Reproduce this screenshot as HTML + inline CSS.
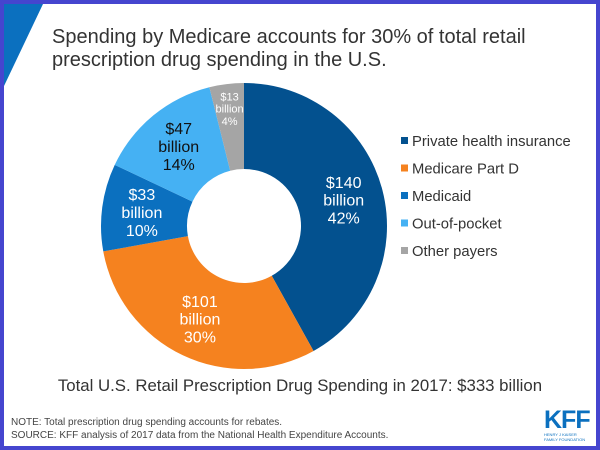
<!DOCTYPE html>
<html><head><meta charset="utf-8"><style>
body{margin:0;width:600px;height:450px;overflow:hidden;font-family:"Liberation Sans",sans-serif;}
#frame{position:absolute;left:0;top:0;width:592px;height:442px;border:4px solid #4545cf;background:#fff;overflow:hidden}
.t{position:absolute;white-space:nowrap}
</style></head><body>
<div id="frame">
<svg width="592" height="442" style="position:absolute;left:0;top:0">
<polygon points="0,0 39,0 0,82" fill="#0b70bf"/>
<g id="donut"></g>
<g id="legend"></g>
</svg>
<div class="t" style="left:48px;top:22px;font-size:20px;line-height:23px;color:#333">Spending by Medicare accounts for 30% of total retail<br>prescription drug spending in the U.S.</div>
<div class="t" style="left:0;width:592px;text-align:center;top:372px;font-size:16.8px;color:#333">Total U.S. Retail Prescription Drug Spending in 2017: $333 billion</div>
<div class="t" style="left:7px;top:412px;font-size:10px;line-height:13px;color:#444">NOTE: Total prescription drug spending accounts for rebates.<br>SOURCE: KFF analysis of 2017 data from the National Health Expenditure Accounts.</div>
<div class="t" style="left:540px;top:403px;font-size:25px;font-weight:bold;color:#0b70bf;letter-spacing:-1px;line-height:26px">KFF</div>
<div class="t" style="left:540px;top:428px;font-size:4px;color:#0b70bf;line-height:5px">HENRY J KAISER<br>FAMILY FOUNDATION</div>
</div>
<script>
const categories=["Private health insurance","Medicare Part D","Medicaid","Out-of-pocket","Other payers"];
const values=[140,101,33,47,13];
const percents=["42%","30%","10%","14%","4%"];
const colors=["#03518f","#f5821f","#0b70bf","#45b1f3","#a5a5a5"];
const labelColors=["#fff","#fff","#fff","#111","#fff"];
const NS="http://www.w3.org/2000/svg";
const cx=240,cy=222,R=143,r=57;
const total=values.reduce((a,b)=>a+b,0);
const g=document.getElementById('donut');
let a0=0;
function pt(a,rad){return [cx+rad*Math.sin(a),cy-rad*Math.cos(a)];}
values.forEach((v,i)=>{
 const a1=a0+v/total*2*Math.PI;
 const [x1,y1]=pt(a0,R),[x2,y2]=pt(a1,R),[x3,y3]=pt(a1,r),[x4,y4]=pt(a0,r);
 const lg=(a1-a0)>Math.PI?1:0;
 const p=document.createElementNS(NS,'path');
 p.setAttribute('d',`M${x1},${y1}A${R},${R} 0 ${lg} 1 ${x2},${y2}L${x3},${y3}A${r},${r} 0 ${lg} 0 ${x4},${y4}Z`);
 p.setAttribute('fill',colors[i]);
 
 
 g.appendChild(p);
 const am=(a0+a1)/2;
 const small=v/total<0.06;
 const [lx,ly]=pt(am,small?118:(R+r)/2+3);
 const fs=small?11:16;
 const t=document.createElementNS(NS,'text');
 t.setAttribute('text-anchor','middle');
 t.setAttribute('font-size',fs);
 t.setAttribute('fill',labelColors[i]);
 
 
 ["$"+v,"billion",percents[i]].forEach((s,k)=>{
  const ts=document.createElementNS(NS,'tspan');
  ts.setAttribute('x',lx);ts.setAttribute('y',ly+(k-1)*fs*1.12+fs*0.35);
  ts.textContent=s;t.appendChild(ts);
 });
 g.appendChild(t);
 a0=a1;
});
const lgd=document.getElementById('legend');
categories.forEach((c,i)=>{
 const y=137+i*27.5;
 const s=document.createElementNS(NS,'rect');
 s.setAttribute('x',397);s.setAttribute('y',y-4);s.setAttribute('width',7);s.setAttribute('height',7);
 s.setAttribute('fill',colors[i]);
 
 
 lgd.appendChild(s);
 const t=document.createElementNS(NS,'text');
 t.setAttribute('x',408);t.setAttribute('y',y+5);t.setAttribute('font-size',14.8);t.setAttribute('fill','#333');
 t.textContent=c;
 
 
 lgd.appendChild(t);
});
</script>
</body></html>
